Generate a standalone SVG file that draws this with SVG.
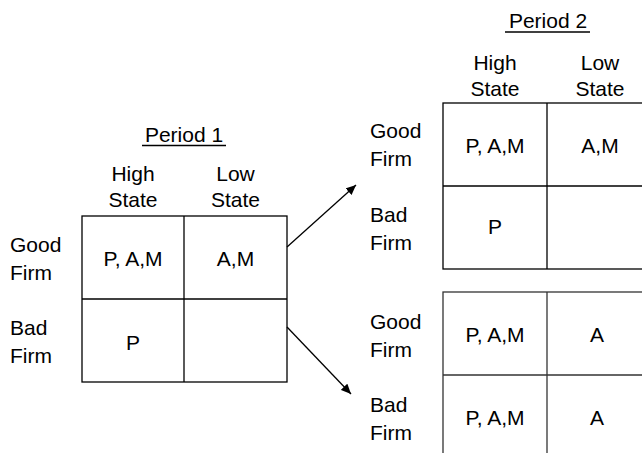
<svg xmlns="http://www.w3.org/2000/svg" width="642" height="453" viewBox="0 0 642 453">
<defs>
<style>
text{font-family:"Liberation Sans",Arial,Helvetica,sans-serif;font-size:21px;fill:#000}
.c{text-anchor:middle}
.grid{fill:#fff;stroke:#000;stroke-width:1.3}
.grid2{fill:#fff;stroke:#333;stroke-width:1.3}
.ul{stroke:#000;stroke-width:1.5}
.conn{stroke:#000;stroke-width:1.3;fill:none}
</style>
<marker id="ah" viewBox="0 0 10 10" refX="10" refY="5" markerWidth="10" markerHeight="10" markerUnits="userSpaceOnUse" orient="auto">
<path d="M0,0.5 L10,5 L0,9.5 Z" fill="#000"/>
</marker>
</defs>
<rect width="642" height="453" fill="#fff"/>

<g id="period1">
<text class="c" x="184" y="142">Period 1</text>
<line class="ul" x1="142" y1="145.5" x2="226" y2="145.5"/>
<text class="c" x="133" y="181">High</text>
<text class="c" x="133" y="207">State</text>
<text class="c" x="235.5" y="181">Low</text>
<text class="c" x="235.5" y="207">State</text>
<text x="10" y="252">Good</text>
<text x="10" y="280">Firm</text>
<text x="10" y="335">Bad</text>
<text x="10" y="363">Firm</text>
<rect class="grid" x="82" y="216" width="205" height="166"/>
<line class="grid" x1="184" y1="216" x2="184" y2="382"/>
<line class="grid" x1="82" y1="299" x2="287" y2="299"/>
<text class="c" x="133" y="266">P, A,M</text>
<text class="c" x="235.5" y="266">A,M</text>
<text class="c" x="133" y="350">P</text>
</g>

<g id="period2-upper">
<text class="c" x="548" y="28">Period 2</text>
<line class="ul" x1="505" y1="32" x2="590" y2="32"/>
<text class="c" x="495" y="70">High</text>
<text class="c" x="495" y="96">State</text>
<text class="c" x="600" y="70">Low</text>
<text class="c" x="600" y="96">State</text>
<text x="370" y="138">Good</text>
<text x="370" y="166">Firm</text>
<text x="370" y="222">Bad</text>
<text x="370" y="250">Firm</text>
<rect class="grid" x="443" y="103" width="210" height="166"/>
<line class="grid" x1="547" y1="103" x2="547" y2="269"/>
<line class="grid" x1="443" y1="186" x2="653" y2="186"/>
<text class="c" x="495" y="153">P, A,M</text>
<text class="c" x="600" y="153">A,M</text>
<text class="c" x="495" y="234">P</text>
</g>

<g id="period2-lower">
<text x="370" y="329">Good</text>
<text x="370" y="357">Firm</text>
<text x="370" y="412">Bad</text>
<text x="370" y="440">Firm</text>
<rect class="grid2" x="443" y="292" width="210" height="166"/>
<line class="grid2" x1="547" y1="292" x2="547" y2="458"/>
<line class="grid2" x1="443" y1="375" x2="653" y2="375"/>
<text class="c" x="495" y="342">P, A,M</text>
<text class="c" x="597" y="342">A</text>
<text class="c" x="495" y="425">P, A,M</text>
<text class="c" x="597" y="425">A</text>
</g>

<g id="connectors">
<line class="conn" x1="287" y1="247" x2="356" y2="185" marker-end="url(#ah)"/>
<line class="conn" x1="287" y1="327" x2="351" y2="394" marker-end="url(#ah)"/>
</g>
</svg>
